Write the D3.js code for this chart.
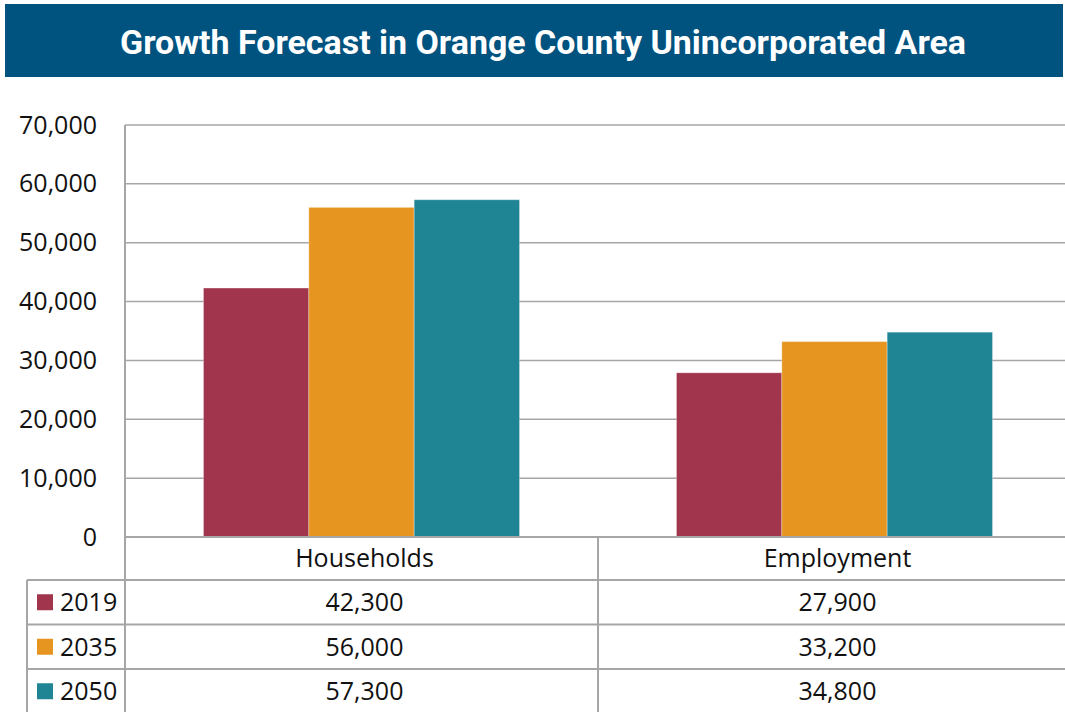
<!DOCTYPE html>
<html>
<head>
<meta charset="utf-8">
<script src="https://cdn.jsdelivr.net/npm/d3@7"></script>
<style>
  body { margin: 0; background: #fff; }
  svg { display: block; }
  text { font-family: "Open Sans", sans-serif; fill: #111; }
</style>
</head>
<body>
<svg id="chart" width="1065" height="712"></svg>
<script>
var categories = ["Households", "Employment"];
var years = ["2019", "2035", "2050"];
var households = [42300, 56000, 57300];
var employment = [27900, 33200, 34800];
var yTicks = [0, 10000, 20000, 30000, 40000, 50000, 60000, 70000];
var colors = ["#a0354d", "#e69521", "#1f8494"];

var values = {"Households": households, "Employment": employment};

var svg = d3.select("#chart");
var fmt = d3.format(",");
var gridColor = "#a6a6a6";

// title banner
svg.append("rect")
    .attr("x", 5).attr("y", 4)
    .attr("width", 1058).attr("height", 73)
    .attr("fill", "#00527f");

svg.append("text")
    .attr("x", 543).attr("y", 54)
    .attr("text-anchor", "middle")
    .attr("textLength", 846)
    .attr("lengthAdjust", "spacingAndGlyphs")
    .style("font-family", "Roboto, sans-serif")
    .style("font-weight", "bold")
    .style("font-size", "33px")
    .style("fill", "#fff")
    .text("Growth Forecast in Orange County Unincorporated Area");

// scales
var y = d3.scaleLinear().domain([0, 70000]).range([537, 125]);
var x = d3.scaleBand().domain(categories).range([125, 1071]);
var xInner = d3.scaleBand().domain(years).range([0, x.bandwidth()]).paddingOuter(0.745);

// gridlines
svg.append("g").selectAll("line")
    .data(yTicks.filter(function(d) { return d > 0; }))
    .enter().append("line")
    .attr("x1", 125).attr("x2", 1065)
    .attr("y1", function(d) { return y(d); })
    .attr("y2", function(d) { return y(d); })
    .attr("stroke", gridColor)
    .attr("stroke-width", 1.5);

// y axis labels
var yAxis = d3.axisLeft(y).tickValues(yTicks).tickFormat(fmt).tickSize(0).tickPadding(28);
var ya = svg.append("g").attr("transform", "translate(125,0)").call(yAxis);
ya.select(".domain").remove();
ya.selectAll("text")
    .style("font-family", "Open Sans, sans-serif")
    .style("font-size", "25px")
    .attr("fill", "#111");

// bars
var groups = svg.append("g").selectAll("g")
    .data(categories)
    .enter().append("g")
    .attr("transform", function(d) { return "translate(" + x(d) + ",0)"; });

groups.selectAll("rect")
    .data(function(c) { return values[c].map(function(v, i) { return {year: years[i], value: v, i: i}; }); })
    .enter().append("rect")
    .attr("x", function(d) { return xInner(d.year); })
    .attr("width", xInner.bandwidth())
    .attr("y", function(d) { return y(d.value); })
    .attr("height", function(d) { return y(0) - y(d.value); })
    .attr("fill", function(d) { return colors[d.i]; })
    .attr("stroke", "#fff")
    .attr("stroke-opacity", 0.3)
    .attr("stroke-width", 1);

// data table
var rowTop = 580, rowH = 44.5;
var lines = svg.append("g").attr("stroke", gridColor).attr("stroke-width", 2);
lines.append("line").attr("x1", 125).attr("x2", 1065).attr("y1", 537).attr("y2", 537);
lines.append("line").attr("x1", 125).attr("x2", 125).attr("y1", 125).attr("y2", 712);
lines.append("line").attr("x1", 27).attr("x2", 27).attr("y1", rowTop).attr("y2", 712);
lines.append("line").attr("x1", 598).attr("x2", 598).attr("y1", 537).attr("y2", 712);
years.forEach(function(yr, i) {
    var ry = rowTop + i * rowH;
    lines.append("line").attr("x1", 27).attr("x2", 1065).attr("y1", ry).attr("y2", ry);
});

// category header
svg.append("g").selectAll("text")
    .data(categories)
    .enter().append("text")
    .attr("x", function(d) { return x(d) + x.bandwidth() / 2 + 3; })
    .attr("y", 567)
    .attr("text-anchor", "middle")
    .style("font-size", "25px")
    .text(function(d) { return d; });

// legend rows + values
years.forEach(function(yr, i) {
    var cy = rowTop + i * rowH + rowH / 2;
    svg.append("rect")
        .attr("x", 37).attr("y", cy - 8)
        .attr("width", 16).attr("height", 16)
        .attr("fill", colors[i]);
    svg.append("text")
        .attr("x", 60).attr("y", cy + 9)
        .style("font-size", "25px")
        .text(yr);
    categories.forEach(function(c) {
        svg.append("text")
            .attr("x", x(c) + x.bandwidth() / 2 + 3)
            .attr("y", cy + 9)
            .attr("text-anchor", "middle")
            .style("font-size", "25px")
            .text(fmt(values[c][i]));
    });
});
</script>
</body>
</html>
